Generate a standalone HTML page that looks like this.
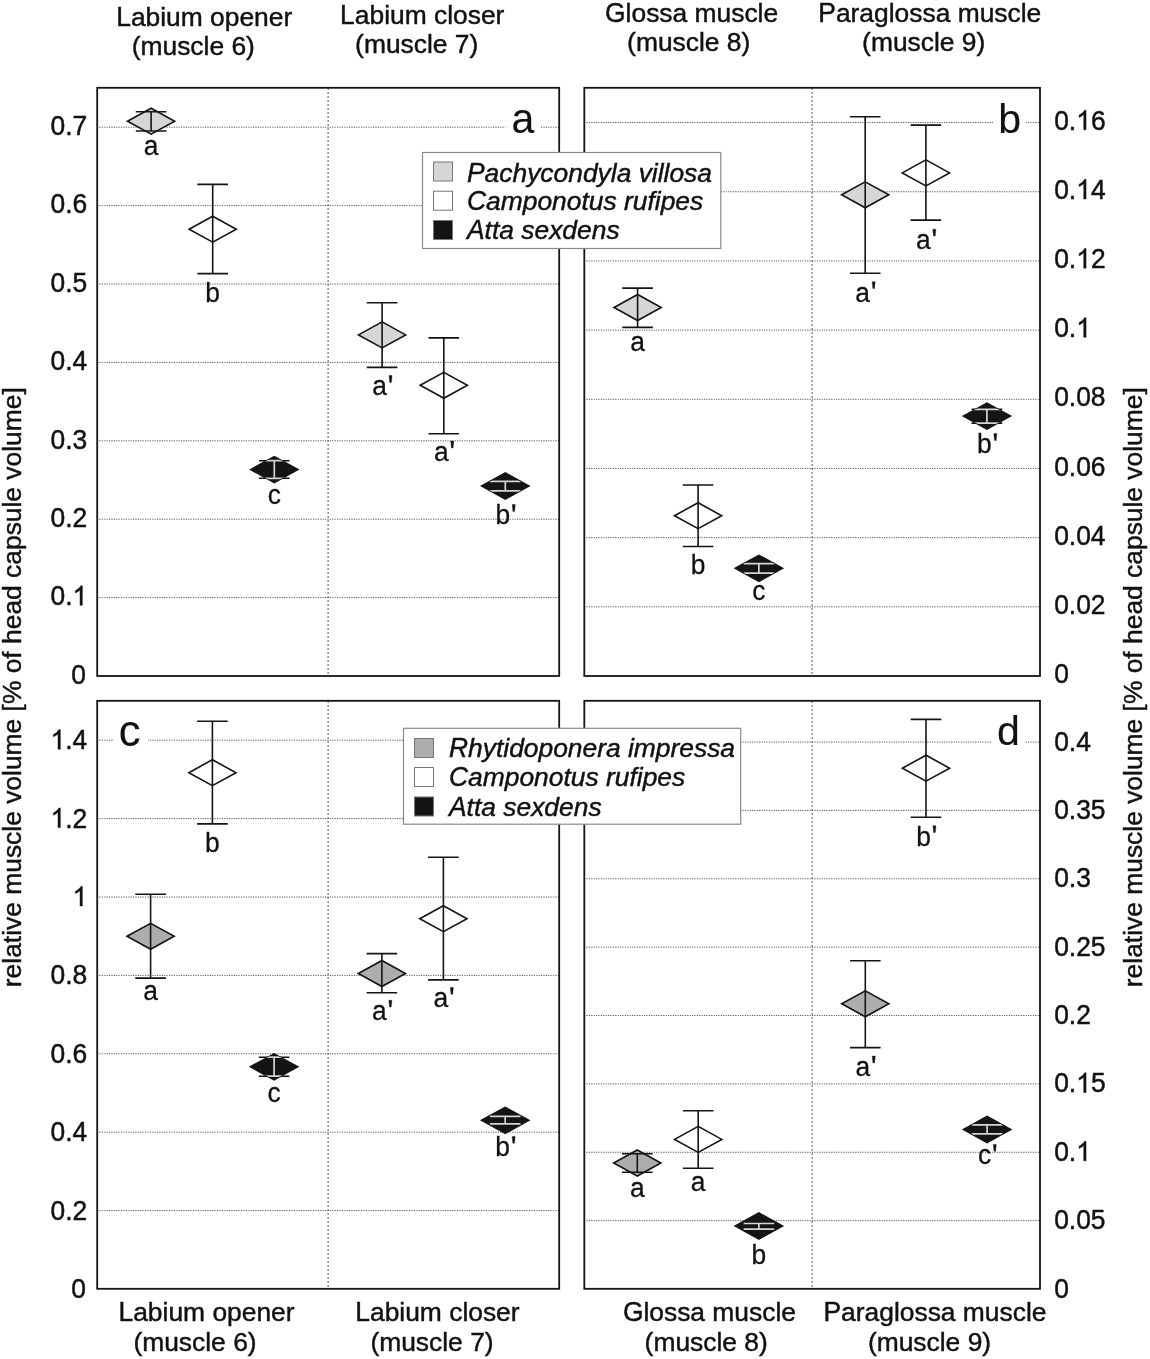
<!DOCTYPE html><html><head><meta charset="utf-8"><style>
html,body{margin:0;padding:0;background:#fff;}
svg{display:block;will-change:transform;}
text{font-family:"Liberation Sans",sans-serif;fill:#111;stroke:#111;stroke-width:0.45px;}
.it{font-style:italic;}
</style></head><body>
<svg width="1150" height="1359" viewBox="0 0 1150 1359">
<rect x="0" y="0" width="1150" height="1359" fill="#fff"/>
<line x1="97" y1="597.60" x2="559" y2="597.60" stroke="#5a5a5a" stroke-width="1" stroke-dasharray="1.2 1.2"/>
<line x1="97" y1="519.20" x2="559" y2="519.20" stroke="#5a5a5a" stroke-width="1" stroke-dasharray="1.2 1.2"/>
<line x1="97" y1="440.80" x2="559" y2="440.80" stroke="#5a5a5a" stroke-width="1" stroke-dasharray="1.2 1.2"/>
<line x1="97" y1="362.40" x2="559" y2="362.40" stroke="#5a5a5a" stroke-width="1" stroke-dasharray="1.2 1.2"/>
<line x1="97" y1="284.00" x2="559" y2="284.00" stroke="#5a5a5a" stroke-width="1" stroke-dasharray="1.2 1.2"/>
<line x1="97" y1="205.60" x2="559" y2="205.60" stroke="#5a5a5a" stroke-width="1" stroke-dasharray="1.2 1.2"/>
<line x1="97" y1="127.20" x2="559" y2="127.20" stroke="#5a5a5a" stroke-width="1" stroke-dasharray="1.2 1.2"/>
<line x1="328.1" y1="88" x2="328.1" y2="676" stroke="#555" stroke-width="1" stroke-dasharray="2 2"/>
<text transform="translate(71.32,683.70) scale(1,1.05)" font-size="26.4">0</text>
<text transform="translate(50.50,605.30) scale(1,1.05)" font-size="26.4">0.<tspan style="fill:none;stroke:none">1</tspan></text>
<path d="M763,0 L583,0 L583,1147 Q518,1085 412.5,1023 Q307,961 223,930 L223,1104 Q374,1175 487,1276 Q600,1377 647,1472 L763,1472 Z" transform="translate(72.52,605.30) scale(0.01289,-0.01333)" fill="#111" stroke="#111" stroke-width="34.9"/>
<text transform="translate(50.50,526.90) scale(1,1.05)" font-size="26.4">0.2</text>
<text transform="translate(50.50,448.50) scale(1,1.05)" font-size="26.4">0.3</text>
<text transform="translate(50.50,370.10) scale(1,1.05)" font-size="26.4">0.4</text>
<text transform="translate(50.50,291.70) scale(1,1.05)" font-size="26.4">0.5</text>
<text transform="translate(50.50,213.30) scale(1,1.05)" font-size="26.4">0.6</text>
<text transform="translate(50.50,134.90) scale(1,1.05)" font-size="26.4">0.7</text>
<line x1="584" y1="606.82" x2="1040" y2="606.82" stroke="#5a5a5a" stroke-width="1" stroke-dasharray="1.2 1.2"/>
<line x1="584" y1="537.65" x2="1040" y2="537.65" stroke="#5a5a5a" stroke-width="1" stroke-dasharray="1.2 1.2"/>
<line x1="584" y1="468.47" x2="1040" y2="468.47" stroke="#5a5a5a" stroke-width="1" stroke-dasharray="1.2 1.2"/>
<line x1="584" y1="399.29" x2="1040" y2="399.29" stroke="#5a5a5a" stroke-width="1" stroke-dasharray="1.2 1.2"/>
<line x1="584" y1="330.12" x2="1040" y2="330.12" stroke="#5a5a5a" stroke-width="1" stroke-dasharray="1.2 1.2"/>
<line x1="584" y1="260.94" x2="1040" y2="260.94" stroke="#5a5a5a" stroke-width="1" stroke-dasharray="1.2 1.2"/>
<line x1="584" y1="191.76" x2="1040" y2="191.76" stroke="#5a5a5a" stroke-width="1" stroke-dasharray="1.2 1.2"/>
<line x1="584" y1="122.59" x2="1040" y2="122.59" stroke="#5a5a5a" stroke-width="1" stroke-dasharray="1.2 1.2"/>
<line x1="812.1" y1="88" x2="812.1" y2="676" stroke="#555" stroke-width="1" stroke-dasharray="2 2"/>
<text transform="translate(1054.20,683.20) scale(1,1.05)" font-size="26.4">0</text>
<text transform="translate(1054.20,614.02) scale(1,1.05)" font-size="26.4">0.02</text>
<text transform="translate(1054.20,544.85) scale(1,1.05)" font-size="26.4">0.04</text>
<text transform="translate(1054.20,475.67) scale(1,1.05)" font-size="26.4">0.06</text>
<text transform="translate(1054.20,406.49) scale(1,1.05)" font-size="26.4">0.08</text>
<text transform="translate(1054.20,337.32) scale(1,1.05)" font-size="26.4">0.<tspan style="fill:none;stroke:none">1</tspan></text>
<path d="M763,0 L583,0 L583,1147 Q518,1085 412.5,1023 Q307,961 223,930 L223,1104 Q374,1175 487,1276 Q600,1377 647,1472 L763,1472 Z" transform="translate(1076.22,337.32) scale(0.01289,-0.01333)" fill="#111" stroke="#111" stroke-width="34.9"/>
<text transform="translate(1054.20,268.14) scale(1,1.05)" font-size="26.4">0.<tspan style="fill:none;stroke:none">1</tspan>2</text>
<path d="M763,0 L583,0 L583,1147 Q518,1085 412.5,1023 Q307,961 223,930 L223,1104 Q374,1175 487,1276 Q600,1377 647,1472 L763,1472 Z" transform="translate(1076.22,268.14) scale(0.01289,-0.01333)" fill="#111" stroke="#111" stroke-width="34.9"/>
<text transform="translate(1054.20,198.96) scale(1,1.05)" font-size="26.4">0.<tspan style="fill:none;stroke:none">1</tspan>4</text>
<path d="M763,0 L583,0 L583,1147 Q518,1085 412.5,1023 Q307,961 223,930 L223,1104 Q374,1175 487,1276 Q600,1377 647,1472 L763,1472 Z" transform="translate(1076.22,198.96) scale(0.01289,-0.01333)" fill="#111" stroke="#111" stroke-width="34.9"/>
<text transform="translate(1054.20,129.79) scale(1,1.05)" font-size="26.4">0.<tspan style="fill:none;stroke:none">1</tspan>6</text>
<path d="M763,0 L583,0 L583,1147 Q518,1085 412.5,1023 Q307,961 223,930 L223,1104 Q374,1175 487,1276 Q600,1377 647,1472 L763,1472 Z" transform="translate(1076.22,129.79) scale(0.01289,-0.01333)" fill="#111" stroke="#111" stroke-width="34.9"/>
<line x1="97" y1="1210.60" x2="559" y2="1210.60" stroke="#5a5a5a" stroke-width="1" stroke-dasharray="1.2 1.2"/>
<line x1="97" y1="1132.20" x2="559" y2="1132.20" stroke="#5a5a5a" stroke-width="1" stroke-dasharray="1.2 1.2"/>
<line x1="97" y1="1053.80" x2="559" y2="1053.80" stroke="#5a5a5a" stroke-width="1" stroke-dasharray="1.2 1.2"/>
<line x1="97" y1="975.40" x2="559" y2="975.40" stroke="#5a5a5a" stroke-width="1" stroke-dasharray="1.2 1.2"/>
<line x1="97" y1="897.00" x2="559" y2="897.00" stroke="#5a5a5a" stroke-width="1" stroke-dasharray="1.2 1.2"/>
<line x1="97" y1="818.60" x2="559" y2="818.60" stroke="#5a5a5a" stroke-width="1" stroke-dasharray="1.2 1.2"/>
<line x1="97" y1="740.20" x2="559" y2="740.20" stroke="#5a5a5a" stroke-width="1" stroke-dasharray="1.2 1.2"/>
<line x1="328.1" y1="701" x2="328.1" y2="1289" stroke="#555" stroke-width="1" stroke-dasharray="2 2"/>
<text transform="translate(71.32,1298.00) scale(1,1.05)" font-size="26.4">0</text>
<text transform="translate(50.50,1219.60) scale(1,1.05)" font-size="26.4">0.2</text>
<text transform="translate(50.50,1141.20) scale(1,1.05)" font-size="26.4">0.4</text>
<text transform="translate(50.50,1062.80) scale(1,1.05)" font-size="26.4">0.6</text>
<text transform="translate(50.50,984.40) scale(1,1.05)" font-size="26.4">0.8</text>
<text transform="translate(72.52,906.00) scale(1,1.05)" font-size="26.4"><tspan style="fill:none;stroke:none">1</tspan></text>
<path d="M763,0 L583,0 L583,1147 Q518,1085 412.5,1023 Q307,961 223,930 L223,1104 Q374,1175 487,1276 Q600,1377 647,1472 L763,1472 Z" transform="translate(72.52,906.00) scale(0.01289,-0.01333)" fill="#111" stroke="#111" stroke-width="34.9"/>
<text transform="translate(50.50,827.60) scale(1,1.05)" font-size="26.4"><tspan style="fill:none;stroke:none">1</tspan>.2</text>
<path d="M763,0 L583,0 L583,1147 Q518,1085 412.5,1023 Q307,961 223,930 L223,1104 Q374,1175 487,1276 Q600,1377 647,1472 L763,1472 Z" transform="translate(50.50,827.60) scale(0.01289,-0.01333)" fill="#111" stroke="#111" stroke-width="34.9"/>
<text transform="translate(50.50,749.20) scale(1,1.05)" font-size="26.4"><tspan style="fill:none;stroke:none">1</tspan>.4</text>
<path d="M763,0 L583,0 L583,1147 Q518,1085 412.5,1023 Q307,961 223,930 L223,1104 Q374,1175 487,1276 Q600,1377 647,1472 L763,1472 Z" transform="translate(50.50,749.20) scale(0.01289,-0.01333)" fill="#111" stroke="#111" stroke-width="34.9"/>
<line x1="584" y1="1220.63" x2="1040" y2="1220.63" stroke="#5a5a5a" stroke-width="1" stroke-dasharray="1.2 1.2"/>
<line x1="584" y1="1152.26" x2="1040" y2="1152.26" stroke="#5a5a5a" stroke-width="1" stroke-dasharray="1.2 1.2"/>
<line x1="584" y1="1083.88" x2="1040" y2="1083.88" stroke="#5a5a5a" stroke-width="1" stroke-dasharray="1.2 1.2"/>
<line x1="584" y1="1015.51" x2="1040" y2="1015.51" stroke="#5a5a5a" stroke-width="1" stroke-dasharray="1.2 1.2"/>
<line x1="584" y1="947.14" x2="1040" y2="947.14" stroke="#5a5a5a" stroke-width="1" stroke-dasharray="1.2 1.2"/>
<line x1="584" y1="878.77" x2="1040" y2="878.77" stroke="#5a5a5a" stroke-width="1" stroke-dasharray="1.2 1.2"/>
<line x1="584" y1="810.40" x2="1040" y2="810.40" stroke="#5a5a5a" stroke-width="1" stroke-dasharray="1.2 1.2"/>
<line x1="584" y1="742.02" x2="1040" y2="742.02" stroke="#5a5a5a" stroke-width="1" stroke-dasharray="1.2 1.2"/>
<line x1="812.1" y1="701" x2="812.1" y2="1289" stroke="#555" stroke-width="1" stroke-dasharray="2 2"/>
<text transform="translate(1054.20,1297.60) scale(1,1.05)" font-size="26.4">0</text>
<text transform="translate(1054.20,1229.23) scale(1,1.05)" font-size="26.4">0.05</text>
<text transform="translate(1054.20,1160.86) scale(1,1.05)" font-size="26.4">0.<tspan style="fill:none;stroke:none">1</tspan></text>
<path d="M763,0 L583,0 L583,1147 Q518,1085 412.5,1023 Q307,961 223,930 L223,1104 Q374,1175 487,1276 Q600,1377 647,1472 L763,1472 Z" transform="translate(1076.22,1160.86) scale(0.01289,-0.01333)" fill="#111" stroke="#111" stroke-width="34.9"/>
<text transform="translate(1054.20,1092.48) scale(1,1.05)" font-size="26.4">0.<tspan style="fill:none;stroke:none">1</tspan>5</text>
<path d="M763,0 L583,0 L583,1147 Q518,1085 412.5,1023 Q307,961 223,930 L223,1104 Q374,1175 487,1276 Q600,1377 647,1472 L763,1472 Z" transform="translate(1076.22,1092.48) scale(0.01289,-0.01333)" fill="#111" stroke="#111" stroke-width="34.9"/>
<text transform="translate(1054.20,1024.11) scale(1,1.05)" font-size="26.4">0.2</text>
<text transform="translate(1054.20,955.74) scale(1,1.05)" font-size="26.4">0.25</text>
<text transform="translate(1054.20,887.37) scale(1,1.05)" font-size="26.4">0.3</text>
<text transform="translate(1054.20,819.00) scale(1,1.05)" font-size="26.4">0.35</text>
<text transform="translate(1054.20,750.62) scale(1,1.05)" font-size="26.4">0.4</text>
<rect x="505.5" y="98.9" width="35.0" height="42" fill="#fff"/>
<text transform="translate(522.8,132.9) scale(1,1.06)" font-size="41" text-anchor="middle" style="stroke-width:0.1px">a</text>
<rect x="993" y="98.9" width="32.5" height="42" fill="#fff"/>
<text transform="translate(1009.7,132.9) scale(1,1.0)" font-size="41" text-anchor="middle" style="stroke-width:0.1px">b</text>
<rect x="113.5" y="711.6" width="34.30000000000001" height="42" fill="#fff"/>
<text transform="translate(129.7,745.6) scale(1,1.0)" font-size="43.5" text-anchor="middle" style="stroke-width:0.1px">c</text>
<rect x="991" y="711.2" width="34" height="42" fill="#fff"/>
<text transform="translate(1008.3,745.2) scale(1,1.0)" font-size="41" text-anchor="middle" style="stroke-width:0.1px">d</text>
<path d="M127.50,121.20 L151.10,108.20 L174.70,121.20 L151.10,134.20 Z" fill="#d6d6d6" stroke="#141414" stroke-width="1.6" stroke-linejoin="miter"/>
<path d="M135.80,111.70 H166.40 M151.10,111.70 V131.00 M135.80,131.00 H166.40" stroke="#141414" stroke-width="1.6" fill="none"/>
<text transform="translate(151.10,154.60) scale(1,1.02)" font-size="26.4" text-anchor="middle" style="stroke-width:0.25px">a</text>
<path d="M189.10,229.20 L212.70,216.20 L236.30,229.20 L212.70,242.20 Z" fill="#fff" stroke="#141414" stroke-width="1.6" stroke-linejoin="miter"/>
<path d="M197.40,184.40 H228.00 M212.70,184.40 V273.60 M197.40,273.60 H228.00" stroke="#141414" stroke-width="1.6" fill="none"/>
<text transform="translate(212.70,301.50) scale(1,1.02)" font-size="26.4" text-anchor="middle" style="stroke-width:0.25px">b</text>
<path d="M259.00,460.70 H289.60 M274.30,460.70 V478.30 M259.00,478.30 H289.60" stroke="#141414" stroke-width="1.6" fill="none"/>
<path d="M250.70,469.60 L274.30,456.60 L297.90,469.60 L274.30,482.60 Z" fill="#141414" stroke="#141414" stroke-width="1.6" stroke-linejoin="miter"/>
<clipPath id="cp1"><path d="M250.70,469.60 L274.30,456.60 L297.90,469.60 L274.30,482.60 Z"/></clipPath>
<path d="M259.00,460.70 H289.60 M274.30,460.70 V478.30 M259.00,478.30 H289.60" stroke="#d4d4d4" stroke-width="1.7" fill="none" clip-path="url(#cp1)"/>
<text transform="translate(274.30,504.00) scale(1,1.02)" font-size="26.4" text-anchor="middle" style="stroke-width:0.25px">c</text>
<path d="M358.50,334.90 L382.10,321.90 L405.70,334.90 L382.10,347.90 Z" fill="#d6d6d6" stroke="#141414" stroke-width="1.6" stroke-linejoin="miter"/>
<path d="M366.80,302.80 H397.40 M382.10,302.80 V367.40 M366.80,367.40 H397.40" stroke="#141414" stroke-width="1.6" fill="none"/>
<text transform="translate(382.10,395.40) scale(1,1.02)" font-size="26.4" text-anchor="middle" style="stroke-width:0.25px">a<tspan style="fill:none;stroke:none">'</tspan></text>
<path d="M389.05,375.60 L392.05,375.60 L391.35,382.40 L389.75,382.40 Z" fill="#111" stroke="#111" stroke-width="0.4" stroke-linejoin="round"/>
<path d="M420.20,385.30 L443.80,372.30 L467.40,385.30 L443.80,398.30 Z" fill="#fff" stroke="#141414" stroke-width="1.6" stroke-linejoin="miter"/>
<path d="M428.50,337.90 H459.10 M443.80,337.90 V433.70 M428.50,433.70 H459.10" stroke="#141414" stroke-width="1.6" fill="none"/>
<text transform="translate(443.80,460.90) scale(1,1.02)" font-size="26.4" text-anchor="middle" style="stroke-width:0.25px">a<tspan style="fill:none;stroke:none">'</tspan></text>
<path d="M450.75,441.10 L453.75,441.10 L453.05,447.90 L451.45,447.90 Z" fill="#111" stroke="#111" stroke-width="0.4" stroke-linejoin="round"/>
<path d="M490.00,481.30 H520.60 M505.30,481.30 V490.80 M490.00,490.80 H520.60" stroke="#141414" stroke-width="1.6" fill="none"/>
<path d="M481.70,486.00 L505.30,473.00 L528.90,486.00 L505.30,499.00 Z" fill="#141414" stroke="#141414" stroke-width="1.6" stroke-linejoin="miter"/>
<clipPath id="cp2"><path d="M481.70,486.00 L505.30,473.00 L528.90,486.00 L505.30,499.00 Z"/></clipPath>
<path d="M490.00,481.30 H520.60 M505.30,481.30 V490.80 M490.00,490.80 H520.60" stroke="#d4d4d4" stroke-width="1.7" fill="none" clip-path="url(#cp2)"/>
<text transform="translate(505.30,524.40) scale(1,1.02)" font-size="26.4" text-anchor="middle" style="stroke-width:0.25px">b<tspan style="fill:none;stroke:none">'</tspan></text>
<path d="M512.25,504.60 L515.25,504.60 L514.55,511.40 L512.95,511.40 Z" fill="#111" stroke="#111" stroke-width="0.4" stroke-linejoin="round"/>
<path d="M614.00,307.50 L637.60,294.50 L661.20,307.50 L637.60,320.50 Z" fill="#d6d6d6" stroke="#141414" stroke-width="1.6" stroke-linejoin="miter"/>
<path d="M622.30,288.10 H652.90 M637.60,288.10 V327.40 M622.30,327.40 H652.90" stroke="#141414" stroke-width="1.6" fill="none"/>
<text transform="translate(637.60,351.00) scale(1,1.02)" font-size="26.4" text-anchor="middle" style="stroke-width:0.25px">a</text>
<path d="M674.50,515.70 L698.10,502.70 L721.70,515.70 L698.10,528.70 Z" fill="#fff" stroke="#141414" stroke-width="1.6" stroke-linejoin="miter"/>
<path d="M682.80,485.00 H713.40 M698.10,485.00 V546.50 M682.80,546.50 H713.40" stroke="#141414" stroke-width="1.6" fill="none"/>
<text transform="translate(698.10,574.20) scale(1,1.02)" font-size="26.4" text-anchor="middle" style="stroke-width:0.25px">b</text>
<path d="M743.60,563.60 H774.20 M758.90,563.60 V573.20 M743.60,573.20 H774.20" stroke="#141414" stroke-width="1.6" fill="none"/>
<path d="M735.30,568.30 L758.90,555.30 L782.50,568.30 L758.90,581.30 Z" fill="#141414" stroke="#141414" stroke-width="1.6" stroke-linejoin="miter"/>
<clipPath id="cp3"><path d="M735.30,568.30 L758.90,555.30 L782.50,568.30 L758.90,581.30 Z"/></clipPath>
<path d="M743.60,563.60 H774.20 M758.90,563.60 V573.20 M743.60,573.20 H774.20" stroke="#d4d4d4" stroke-width="1.7" fill="none" clip-path="url(#cp3)"/>
<text transform="translate(758.90,600.10) scale(1,1.02)" font-size="26.4" text-anchor="middle" style="stroke-width:0.25px">c</text>
<path d="M841.60,194.80 L865.20,181.80 L888.80,194.80 L865.20,207.80 Z" fill="#d6d6d6" stroke="#141414" stroke-width="1.6" stroke-linejoin="miter"/>
<path d="M849.90,116.70 H880.50 M865.20,116.70 V273.30 M849.90,273.30 H880.50" stroke="#141414" stroke-width="1.6" fill="none"/>
<text transform="translate(865.20,301.60) scale(1,1.02)" font-size="26.4" text-anchor="middle" style="stroke-width:0.25px">a<tspan style="fill:none;stroke:none">'</tspan></text>
<path d="M872.15,281.80 L875.15,281.80 L874.45,288.60 L872.85,288.60 Z" fill="#111" stroke="#111" stroke-width="0.4" stroke-linejoin="round"/>
<path d="M902.30,172.90 L925.90,159.90 L949.50,172.90 L925.90,185.90 Z" fill="#fff" stroke="#141414" stroke-width="1.6" stroke-linejoin="miter"/>
<path d="M910.60,125.10 H941.20 M925.90,125.10 V220.10 M910.60,220.10 H941.20" stroke="#141414" stroke-width="1.6" fill="none"/>
<text transform="translate(925.90,249.00) scale(1,1.02)" font-size="26.4" text-anchor="middle" style="stroke-width:0.25px">a<tspan style="fill:none;stroke:none">'</tspan></text>
<path d="M932.85,229.20 L935.85,229.20 L935.15,236.00 L933.55,236.00 Z" fill="#111" stroke="#111" stroke-width="0.4" stroke-linejoin="round"/>
<path d="M971.60,409.30 H1002.20 M986.90,409.30 V423.10 M971.60,423.10 H1002.20" stroke="#141414" stroke-width="1.6" fill="none"/>
<path d="M963.30,416.10 L986.90,403.10 L1010.50,416.10 L986.90,429.10 Z" fill="#141414" stroke="#141414" stroke-width="1.6" stroke-linejoin="miter"/>
<clipPath id="cp4"><path d="M963.30,416.10 L986.90,403.10 L1010.50,416.10 L986.90,429.10 Z"/></clipPath>
<path d="M971.60,409.30 H1002.20 M986.90,409.30 V423.10 M971.60,423.10 H1002.20" stroke="#d4d4d4" stroke-width="1.7" fill="none" clip-path="url(#cp4)"/>
<text transform="translate(986.90,453.40) scale(1,1.02)" font-size="26.4" text-anchor="middle" style="stroke-width:0.25px">b<tspan style="fill:none;stroke:none">'</tspan></text>
<path d="M993.85,433.60 L996.85,433.60 L996.15,440.40 L994.55,440.40 Z" fill="#111" stroke="#111" stroke-width="0.4" stroke-linejoin="round"/>
<path d="M127.00,936.30 L150.60,923.30 L174.20,936.30 L150.60,949.30 Z" fill="#adadad" stroke="#141414" stroke-width="1.6" stroke-linejoin="miter"/>
<path d="M135.30,894.20 H165.90 M150.60,894.20 V978.10 M135.30,978.10 H165.90" stroke="#141414" stroke-width="1.6" fill="none"/>
<text transform="translate(150.60,1000.40) scale(1,1.02)" font-size="26.4" text-anchor="middle" style="stroke-width:0.25px">a</text>
<path d="M188.80,772.70 L212.40,759.70 L236.00,772.70 L212.40,785.70 Z" fill="#fff" stroke="#141414" stroke-width="1.6" stroke-linejoin="miter"/>
<path d="M197.10,721.20 H227.70 M212.40,721.20 V823.90 M197.10,823.90 H227.70" stroke="#141414" stroke-width="1.6" fill="none"/>
<text transform="translate(212.40,852.40) scale(1,1.02)" font-size="26.4" text-anchor="middle" style="stroke-width:0.25px">b</text>
<path d="M258.80,1057.20 H289.40 M274.10,1057.20 V1076.20 M258.80,1076.20 H289.40" stroke="#141414" stroke-width="1.6" fill="none"/>
<path d="M250.50,1066.80 L274.10,1053.80 L297.70,1066.80 L274.10,1079.80 Z" fill="#141414" stroke="#141414" stroke-width="1.6" stroke-linejoin="miter"/>
<clipPath id="cp5"><path d="M250.50,1066.80 L274.10,1053.80 L297.70,1066.80 L274.10,1079.80 Z"/></clipPath>
<path d="M258.80,1057.20 H289.40 M274.10,1057.20 V1076.20 M258.80,1076.20 H289.40" stroke="#d4d4d4" stroke-width="1.7" fill="none" clip-path="url(#cp5)"/>
<text transform="translate(274.10,1102.00) scale(1,1.02)" font-size="26.4" text-anchor="middle" style="stroke-width:0.25px">c</text>
<path d="M358.30,973.50 L381.90,960.50 L405.50,973.50 L381.90,986.50 Z" fill="#adadad" stroke="#141414" stroke-width="1.6" stroke-linejoin="miter"/>
<path d="M366.60,953.60 H397.20 M381.90,953.60 V992.80 M366.60,992.80 H397.20" stroke="#141414" stroke-width="1.6" fill="none"/>
<text transform="translate(381.90,1020.10) scale(1,1.02)" font-size="26.4" text-anchor="middle" style="stroke-width:0.25px">a<tspan style="fill:none;stroke:none">'</tspan></text>
<path d="M388.85,1000.30 L391.85,1000.30 L391.15,1007.10 L389.55,1007.10 Z" fill="#111" stroke="#111" stroke-width="0.4" stroke-linejoin="round"/>
<path d="M419.80,918.70 L443.40,905.70 L467.00,918.70 L443.40,931.70 Z" fill="#fff" stroke="#141414" stroke-width="1.6" stroke-linejoin="miter"/>
<path d="M428.10,857.20 H458.70 M443.40,857.20 V979.90 M428.10,979.90 H458.70" stroke="#141414" stroke-width="1.6" fill="none"/>
<text transform="translate(443.40,1007.30) scale(1,1.02)" font-size="26.4" text-anchor="middle" style="stroke-width:0.25px">a<tspan style="fill:none;stroke:none">'</tspan></text>
<path d="M450.35,987.50 L453.35,987.50 L452.65,994.30 L451.05,994.30 Z" fill="#111" stroke="#111" stroke-width="0.4" stroke-linejoin="round"/>
<path d="M489.90,1116.40 H520.50 M505.20,1116.40 V1123.90 M489.90,1123.90 H520.50" stroke="#141414" stroke-width="1.6" fill="none"/>
<path d="M481.60,1120.30 L505.20,1107.30 L528.80,1120.30 L505.20,1133.30 Z" fill="#141414" stroke="#141414" stroke-width="1.6" stroke-linejoin="miter"/>
<clipPath id="cp6"><path d="M481.60,1120.30 L505.20,1107.30 L528.80,1120.30 L505.20,1133.30 Z"/></clipPath>
<path d="M489.90,1116.40 H520.50 M505.20,1116.40 V1123.90 M489.90,1123.90 H520.50" stroke="#d4d4d4" stroke-width="1.7" fill="none" clip-path="url(#cp6)"/>
<text transform="translate(505.20,1156.20) scale(1,1.02)" font-size="26.4" text-anchor="middle" style="stroke-width:0.25px">b<tspan style="fill:none;stroke:none">'</tspan></text>
<path d="M512.15,1136.40 L515.15,1136.40 L514.45,1143.20 L512.85,1143.20 Z" fill="#111" stroke="#111" stroke-width="0.4" stroke-linejoin="round"/>
<path d="M613.70,1163.00 L637.30,1150.00 L660.90,1163.00 L637.30,1176.00 Z" fill="#adadad" stroke="#141414" stroke-width="1.6" stroke-linejoin="miter"/>
<path d="M622.00,1153.70 H652.60 M637.30,1153.70 V1172.30 M622.00,1172.30 H652.60" stroke="#141414" stroke-width="1.6" fill="none"/>
<text transform="translate(637.30,1196.50) scale(1,1.02)" font-size="26.4" text-anchor="middle" style="stroke-width:0.25px">a</text>
<path d="M674.60,1139.40 L698.20,1126.40 L721.80,1139.40 L698.20,1152.40 Z" fill="#fff" stroke="#141414" stroke-width="1.6" stroke-linejoin="miter"/>
<path d="M682.90,1110.70 H713.50 M698.20,1110.70 V1168.20 M682.90,1168.20 H713.50" stroke="#141414" stroke-width="1.6" fill="none"/>
<text transform="translate(698.20,1191.10) scale(1,1.02)" font-size="26.4" text-anchor="middle" style="stroke-width:0.25px">a</text>
<path d="M743.60,1223.50 H774.20 M758.90,1223.50 V1229.20 M743.60,1229.20 H774.20" stroke="#141414" stroke-width="1.6" fill="none"/>
<path d="M735.30,1226.00 L758.90,1213.00 L782.50,1226.00 L758.90,1239.00 Z" fill="#141414" stroke="#141414" stroke-width="1.6" stroke-linejoin="miter"/>
<clipPath id="cp7"><path d="M735.30,1226.00 L758.90,1213.00 L782.50,1226.00 L758.90,1239.00 Z"/></clipPath>
<path d="M743.60,1223.50 H774.20 M758.90,1223.50 V1229.20 M743.60,1229.20 H774.20" stroke="#d4d4d4" stroke-width="1.7" fill="none" clip-path="url(#cp7)"/>
<text transform="translate(758.90,1263.50) scale(1,1.02)" font-size="26.4" text-anchor="middle" style="stroke-width:0.25px">b</text>
<path d="M841.70,1003.80 L865.30,990.80 L888.90,1003.80 L865.30,1016.80 Z" fill="#adadad" stroke="#141414" stroke-width="1.6" stroke-linejoin="miter"/>
<path d="M850.00,960.70 H880.60 M865.30,960.70 V1047.60 M850.00,1047.60 H880.60" stroke="#141414" stroke-width="1.6" fill="none"/>
<text transform="translate(865.30,1075.90) scale(1,1.02)" font-size="26.4" text-anchor="middle" style="stroke-width:0.25px">a<tspan style="fill:none;stroke:none">'</tspan></text>
<path d="M872.25,1056.10 L875.25,1056.10 L874.55,1062.90 L872.95,1062.90 Z" fill="#111" stroke="#111" stroke-width="0.4" stroke-linejoin="round"/>
<path d="M902.40,768.20 L926.00,755.20 L949.60,768.20 L926.00,781.20 Z" fill="#fff" stroke="#141414" stroke-width="1.6" stroke-linejoin="miter"/>
<path d="M910.70,719.40 H941.30 M926.00,719.40 V817.30 M910.70,817.30 H941.30" stroke="#141414" stroke-width="1.6" fill="none"/>
<text transform="translate(926.00,845.60) scale(1,1.02)" font-size="26.4" text-anchor="middle" style="stroke-width:0.25px">b<tspan style="fill:none;stroke:none">'</tspan></text>
<path d="M932.95,825.80 L935.95,825.80 L935.25,832.60 L933.65,832.60 Z" fill="#111" stroke="#111" stroke-width="0.4" stroke-linejoin="round"/>
<path d="M971.80,1124.90 H1002.40 M987.10,1124.90 V1133.80 M971.80,1133.80 H1002.40" stroke="#141414" stroke-width="1.6" fill="none"/>
<path d="M963.50,1129.50 L987.10,1116.50 L1010.70,1129.50 L987.10,1142.50 Z" fill="#141414" stroke="#141414" stroke-width="1.6" stroke-linejoin="miter"/>
<clipPath id="cp8"><path d="M963.50,1129.50 L987.10,1116.50 L1010.70,1129.50 L987.10,1142.50 Z"/></clipPath>
<path d="M971.80,1124.90 H1002.40 M987.10,1124.90 V1133.80 M971.80,1133.80 H1002.40" stroke="#d4d4d4" stroke-width="1.7" fill="none" clip-path="url(#cp8)"/>
<text transform="translate(987.10,1164.20) scale(1,1.02)" font-size="26.4" text-anchor="middle" style="stroke-width:0.25px">c<tspan style="fill:none;stroke:none">'</tspan></text>
<path d="M993.31,1144.40 L996.31,1144.40 L995.61,1151.20 L994.01,1151.20 Z" fill="#111" stroke="#111" stroke-width="0.4" stroke-linejoin="round"/>
<rect x="97.2" y="87.8" width="462.0" height="588.2" fill="none" stroke="#141414" stroke-width="1.8"/>
<rect x="584.3" y="87.8" width="455.7" height="588.2" fill="none" stroke="#141414" stroke-width="1.8"/>
<rect x="97.2" y="700.8" width="462.0" height="588.0" fill="none" stroke="#141414" stroke-width="1.8"/>
<rect x="584.3" y="700.8" width="455.7" height="588.0" fill="none" stroke="#141414" stroke-width="1.8"/>
<rect x="422.5" y="152.5" width="298.29999999999995" height="96.0" fill="#fff" stroke="#8a8a8a" stroke-width="1.2"/>
<rect x="433.5" y="162" width="19" height="19" fill="#d6d6d6" stroke="#777" stroke-width="1"/>
<text class="it" transform="translate(467,181.7) scale(1,1.0)" font-size="26.4"><tspan style="fill:none;stroke:none">P</tspan>achycondyla villosa</text>
<text class="it" transform="translate(467,181.7) scale(1,1.055)" font-size="26.4">P</text>
<rect x="433.5" y="191.2" width="19" height="19" fill="#fff" stroke="#777" stroke-width="1"/>
<text class="it" transform="translate(467,210.4) scale(1,1.0)" font-size="26.4"><tspan style="fill:none;stroke:none">C</tspan>amponotus rufipes</text>
<text class="it" transform="translate(467,210.4) scale(1,1.055)" font-size="26.4">C</text>
<rect x="433.5" y="220.5" width="19" height="19" fill="#141414" stroke="#777" stroke-width="1"/>
<text class="it" transform="translate(467,239.4) scale(1,1.0)" font-size="26.4"><tspan style="fill:none;stroke:none">A</tspan>tta sexdens</text>
<text class="it" transform="translate(467,239.4) scale(1,1.055)" font-size="26.4">A</text>
<rect x="403.5" y="728.3" width="337.20000000000005" height="95.90000000000009" fill="#fff" stroke="#8a8a8a" stroke-width="1.2"/>
<rect x="414.5" y="738.5" width="19" height="19" fill="#adadad" stroke="#777" stroke-width="1"/>
<text class="it" transform="translate(449,757.2) scale(1,1.0)" font-size="26.4"><tspan style="fill:none;stroke:none">R</tspan>hytidoponera impressa</text>
<text class="it" transform="translate(449,757.2) scale(1,1.055)" font-size="26.4">R</text>
<rect x="414.5" y="767.5" width="19" height="19" fill="#fff" stroke="#777" stroke-width="1"/>
<text class="it" transform="translate(449,786.1) scale(1,1.0)" font-size="26.4"><tspan style="fill:none;stroke:none">C</tspan>amponotus rufipes</text>
<text class="it" transform="translate(449,786.1) scale(1,1.055)" font-size="26.4">C</text>
<rect x="414.5" y="797" width="19" height="19" fill="#141414" stroke="#777" stroke-width="1"/>
<text class="it" transform="translate(449,815.7) scale(1,1.0)" font-size="26.4"><tspan style="fill:none;stroke:none">A</tspan>tta sexdens</text>
<text class="it" transform="translate(449,815.7) scale(1,1.055)" font-size="26.4">A</text>
<text transform="translate(116.19,25.5) scale(1,1.0)" font-size="26.4"><tspan style="fill:none;stroke:none">L</tspan>abium opener</text>
<text transform="translate(116.19,25.5) scale(1,1.055)" font-size="26.4">L</text>
<text transform="translate(131.72,54.7) scale(1,1.0)" font-size="26.4">(muscle 6)</text>
<text transform="translate(340.09,24.0) scale(1,1.0)" font-size="26.4"><tspan style="fill:none;stroke:none">L</tspan>abium closer</text>
<text transform="translate(340.09,24.0) scale(1,1.055)" font-size="26.4">L</text>
<text transform="translate(355.12,53.1) scale(1,1.0)" font-size="26.4">(muscle 7)</text>
<text transform="translate(605.08,21.9) scale(1,1.0)" font-size="26.4"><tspan style="fill:none;stroke:none">G</tspan>lossa muscle</text>
<text transform="translate(605.08,21.9) scale(1,1.055)" font-size="26.4">G</text>
<text transform="translate(627.12,50.9) scale(1,1.0)" font-size="26.4">(muscle 8)</text>
<text transform="translate(818.29,21.8) scale(1,1.0)" font-size="26.4"><tspan style="fill:none;stroke:none">P</tspan>araglossa muscle</text>
<text transform="translate(818.29,21.8) scale(1,1.055)" font-size="26.4">P</text>
<text transform="translate(862.12,51.1) scale(1,1.0)" font-size="26.4">(muscle 9)</text>
<text transform="translate(118.49,1320.9) scale(1,1.0)" font-size="26.4"><tspan style="fill:none;stroke:none">L</tspan>abium opener</text>
<text transform="translate(118.49,1320.9) scale(1,1.055)" font-size="26.4">L</text>
<text transform="translate(133.42,1350.5) scale(1,1.0)" font-size="26.4">(muscle 6)</text>
<text transform="translate(355.29,1320.9) scale(1,1.0)" font-size="26.4"><tspan style="fill:none;stroke:none">L</tspan>abium closer</text>
<text transform="translate(355.29,1320.9) scale(1,1.055)" font-size="26.4">L</text>
<text transform="translate(370.42,1350.5) scale(1,1.0)" font-size="26.4">(muscle 7)</text>
<text transform="translate(622.88,1320.9) scale(1,1.0)" font-size="26.4"><tspan style="fill:none;stroke:none">G</tspan>lossa muscle</text>
<text transform="translate(622.88,1320.9) scale(1,1.055)" font-size="26.4">G</text>
<text transform="translate(644.62,1350.5) scale(1,1.0)" font-size="26.4">(muscle 8)</text>
<text transform="translate(823.49,1320.9) scale(1,1.0)" font-size="26.4"><tspan style="fill:none;stroke:none">P</tspan>araglossa muscle</text>
<text transform="translate(823.49,1320.9) scale(1,1.055)" font-size="26.4">P</text>
<text transform="translate(867.92,1350.5) scale(1,1.0)" font-size="26.4">(muscle 9)</text>
<text x="0" y="0" font-size="26.4" text-anchor="middle" transform="translate(21.2,687.2) rotate(-90)">relative muscle volume [% of head capsule volume]</text>
<text x="0" y="0" font-size="26.4" text-anchor="middle" transform="translate(1141.5,687.2) rotate(-90)">relative muscle volume [% of head capsule volume]</text>
</svg></body></html>
